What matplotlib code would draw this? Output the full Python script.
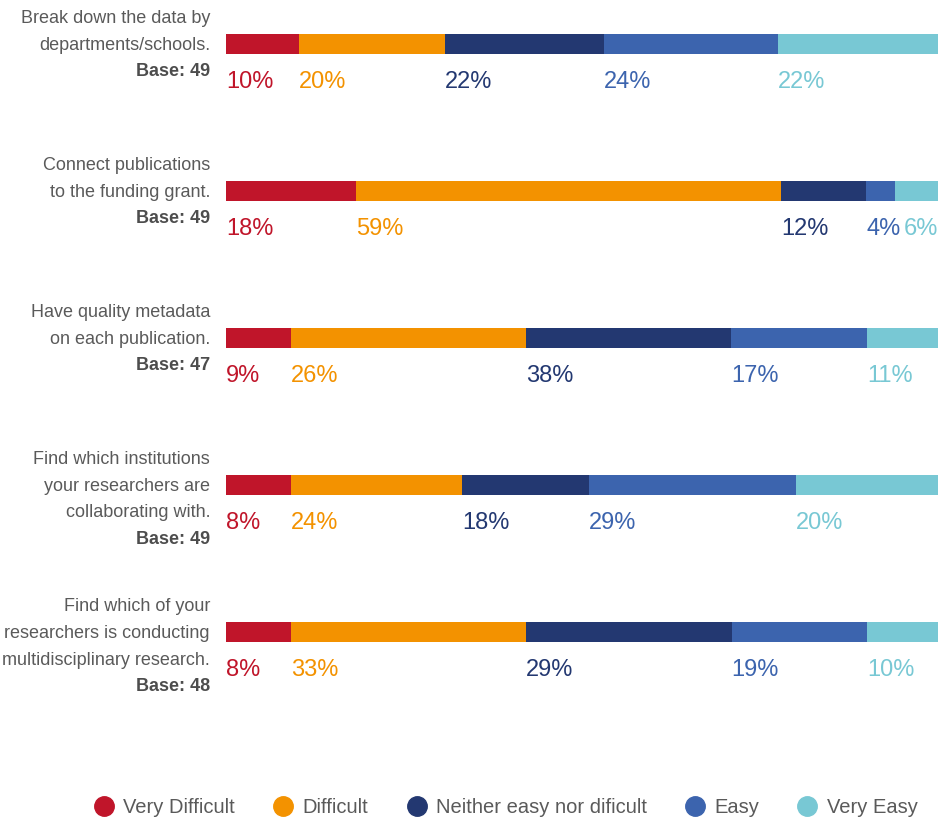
import matplotlib.pyplot as plt
import matplotlib.transforms as mtransforms
from matplotlib.lines import Line2D
import numpy as np

plt.rcParams['font.family'] = ['Liberation Sans Narrow', 'Liberation Sans', 'DejaVu Sans']

questions = [
    ["Break down the data by", "departments/schools."],
    ["Connect publications", "to the funding grant."],
    ["Have quality metadata", "on each publication."],
    ["Find which institutions", "your researchers are", "collaborating with."],
    ["Find which of your", "researchers is conducting", "multidisciplinary research."],
]
bases = [49, 49, 47, 49, 48]
levels = ["Very Difficult", "Difficult", "Neither easy nor dificult", "Easy", "Very Easy"]

# printed labels
very_difficult = [10, 18, 9, 8, 8]
difficult = [20, 59, 26, 24, 33]
neither = [22, 12, 38, 18, 29]
easy = [24, 4, 17, 29, 19]
very_easy = [22, 6, 11, 20, 10]

# bar lengths as drawn in the picture (% of bar width)
bar_very_difficult = [10.3, 18.3, 9.1, 9.1, 9.1]
bar_difficult = [20.5, 59.7, 33.0, 24.0, 33.0]
bar_neither = [22.3, 11.9, 28.8, 17.8, 28.9]
bar_easy = [24.4, 4.1, 19.1, 29.1, 19.0]
bar_very_easy = [22.5, 6.0, 10.0, 19.9, 10.0]

colors = ["#C0152A", "#F39200", "#233871", "#3C64AE", "#78C8D4"]

labels = np.array([very_difficult, difficult, neither, easy, very_easy])
bars = np.array([bar_very_difficult, bar_difficult, bar_neither, bar_easy, bar_very_easy])
shares = bars / bars.sum(axis=0)

fig = plt.figure(figsize=(9.4, 8.19), dpi=100)
ax = fig.add_axes([226 / 940, 0, 712 / 940, 1])
px = 1 / 147  # one pixel in row units
ax.set_ylim(5.272, -0.299)
ax.set_xlim(0, 1)
ax.axis('off')

y = np.arange(len(questions))
left = np.zeros(len(questions))
for k in range(len(levels)):
    ax.barh(y, shares[k], left=left, height=20 * px, color=colors[k], linewidth=0)
    for i in range(len(questions)):
        x, ha = left[i], 'left'
        if k == len(levels) - 1 and shares[k, i] < 0.07:
            x, ha = 1.0, 'right'  # too narrow: push to bar end
        ax.text(x, y[i] + 38 * px, f"{labels[k, i]}%", color=colors[k],
                fontsize=17, ha=ha, va='center')
    left += shares[k]

trans = mtransforms.blended_transform_factory(fig.transFigure, ax.transData)
for i, lines in enumerate(questions):
    for j, line in enumerate(lines):
        ax.text(210 / 940, y[i] - 25 * px + j * 26.5 * px, line, transform=trans,
                ha='right', va='center', fontsize=13, color="#5a5a5a")
    ax.text(210 / 940, y[i] - 25 * px + len(lines) * 26.5 * px, f"Base: {bases[i]}",
            transform=trans, ha='right', va='center', fontsize=13,
            color="#4d4d4d", fontweight='bold')

handles = [Line2D([], [], marker='o', linestyle='none', markersize=14,
                  markerfacecolor=c, markeredgecolor=c) for c in colors]
fig.legend(handles, levels, loc='center', bbox_to_anchor=(0.538, 0.0135), ncol=5,
           frameon=False, fontsize=14.5, handletextpad=0.45, columnspacing=1.9,
           labelcolor="#5a5a5a", handlelength=1.0)

fig.savefig("out.png", dpi=100)
